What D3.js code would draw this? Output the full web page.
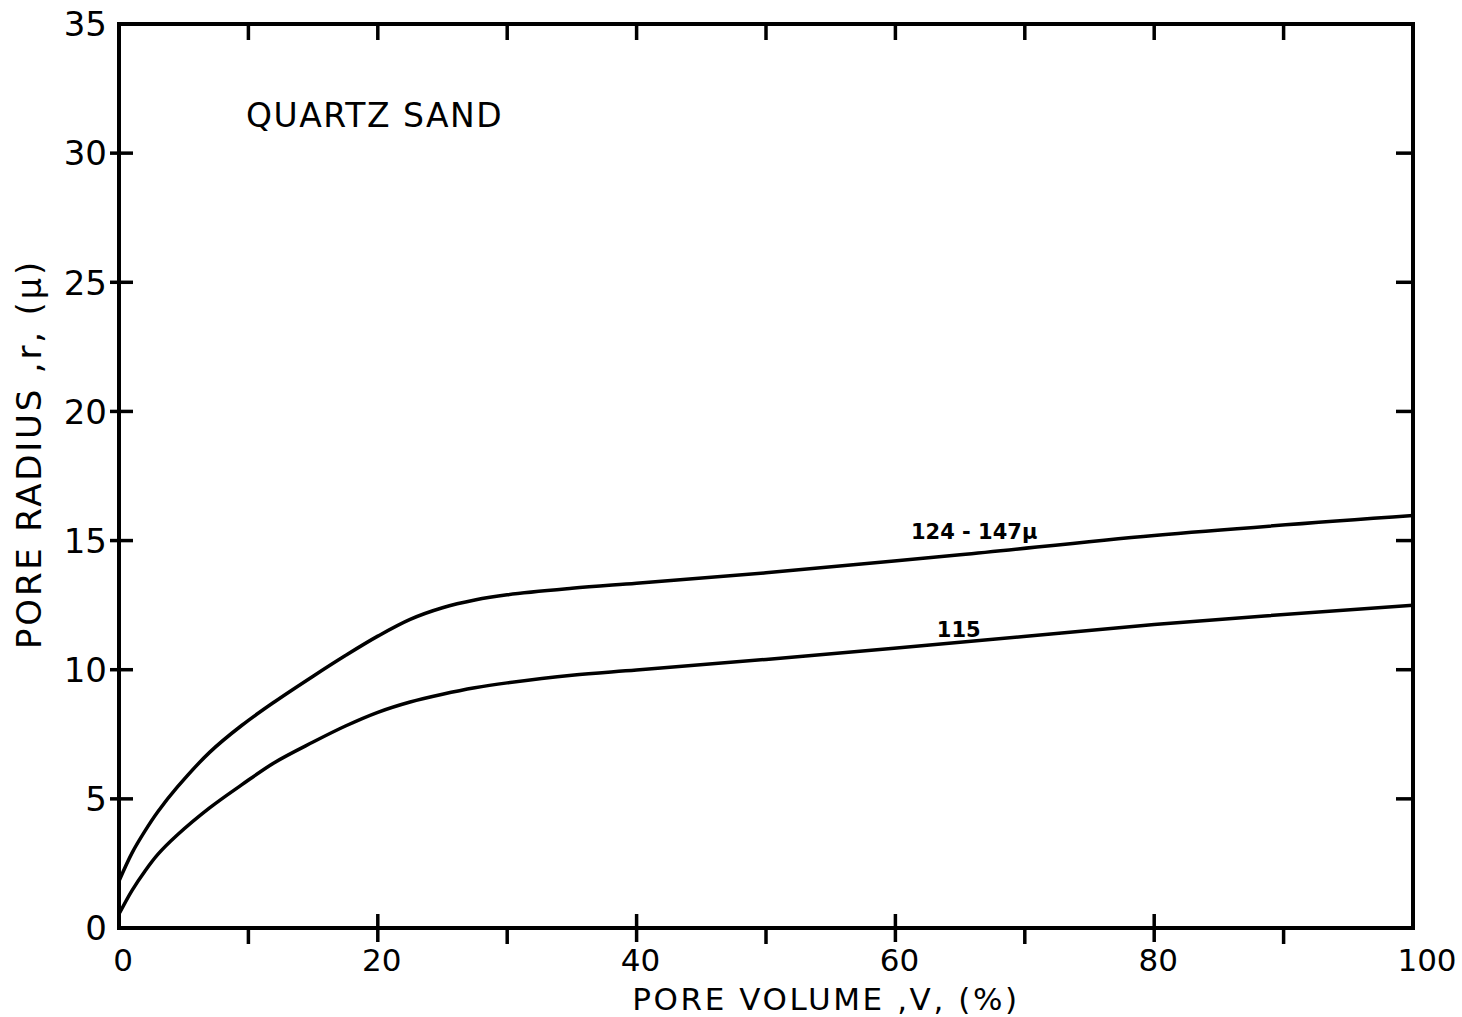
<!DOCTYPE html>
<html>
<head>
<meta charset="utf-8">
<script src="https://cdn.jsdelivr.net/npm/d3@7"></script>
<style>
  body { margin: 0; background: #fff; }
  text { font-family: "DejaVu Sans", sans-serif; fill: #000; }
</style>
</head>
<body>
<div id="chart"></div>
<script>
// chart data
const poreVolume = [0, 1, 2, 3, 4.5, 7, 9.5, 12, 15, 17.5, 20, 22.5, 25, 27.5, 30, 35, 40, 50, 65, 80, 100];
const radiusCoarse = [1.82, 2.9, 3.75, 4.5, 5.45, 6.8, 7.85, 8.75, 9.75, 10.55, 11.3, 11.95, 12.4, 12.7, 12.9, 13.15, 13.35, 13.75, 14.45, 15.2, 15.97];
const radiusFine = [0.54, 1.45, 2.2, 2.85, 3.6, 4.65, 5.55, 6.4, 7.2, 7.82, 8.35, 8.75, 9.05, 9.3, 9.49, 9.79, 9.99, 10.4, 11.06, 11.75, 12.5];
const seriesLabels = ["124 - 147\u03bc", "115"];
const xTicks = [0, 20, 40, 60, 80, 100];
const xMinorTicks = [10, 30, 50, 70, 90];
const yTicks = [0, 5, 10, 15, 20, 25, 30, 35];

// set up svg area
const svgWidth = 1462;
const svgHeight = 1017;
const margin = { top: 24, right: 49, bottom: 89, left: 119 };
const chartWidth = svgWidth - margin.left - margin.right;
const chartHeight = svgHeight - margin.top - margin.bottom;

const svg = d3.select("#chart").append("svg")
    .attr("width", svgWidth)
    .attr("height", svgHeight);

const chartG = svg.append("g")
    .attr("transform", `translate(${margin.left}, ${margin.top})`);

const x = d3.scaleLinear().domain([0, 100]).range([0, chartWidth]);
const y = d3.scaleLinear().domain([0, 35]).range([chartHeight, 0]);

// frame
chartG.append("rect")
    .attr("width", chartWidth)
    .attr("height", chartHeight)
    .attr("fill", "none")
    .attr("stroke", "#000")
    .attr("stroke-width", 4);

// ticks --------------------------------------------------------------
const tickStyle = sel => sel.attr("stroke", "#000").attr("stroke-width", 3.5);

// left: crossing ticks
chartG.selectAll(".ytick-l").data(yTicks.slice(1, -1)).enter().append("line")
    .attr("x1", -9).attr("x2", 14)
    .attr("y1", d => y(d)).attr("y2", d => y(d))
    .call(tickStyle);

// right: inward ticks
chartG.selectAll(".ytick-r").data(yTicks.slice(1, -1)).enter().append("line")
    .attr("x1", chartWidth - 17).attr("x2", chartWidth)
    .attr("y1", d => y(d)).attr("y2", d => y(d))
    .call(tickStyle);

// top: inward ticks
chartG.selectAll(".xtick-t").data(xTicks.slice(1, -1).concat(xMinorTicks)).enter().append("line")
    .attr("x1", d => x(d)).attr("x2", d => x(d))
    .attr("y1", 0).attr("y2", 16)
    .call(tickStyle);

// bottom: major crossing, minor outward
chartG.selectAll(".xtick-b").data(xTicks.slice(1, -1)).enter().append("line")
    .attr("x1", d => x(d)).attr("x2", d => x(d))
    .attr("y1", chartHeight - 14).attr("y2", chartHeight + 14)
    .call(tickStyle);

chartG.selectAll(".xtick-bm").data(xMinorTicks).enter().append("line")
    .attr("x1", d => x(d)).attr("x2", d => x(d))
    .attr("y1", chartHeight).attr("y2", chartHeight + 16)
    .call(tickStyle);

// tick labels
chartG.selectAll(".ylab").data(yTicks).enter().append("text")
    .attr("x", -12)
    .attr("y", d => y(d))
    .attr("dy", "0.36em")
    .attr("text-anchor", "end")
    .attr("font-size", 34)
    .text(d => d);

chartG.selectAll(".xlab").data(xTicks).enter().append("text")
    .attr("x", d => x(d) + (d === 100 ? 14 : 4))
    .attr("y", chartHeight + 43)
    .attr("text-anchor", "middle")
    .attr("font-size", 31)
    .text(d => d);

// axis titles
svg.append("text")
    .attr("x", 826)
    .attr("y", 1010)
    .attr("text-anchor", "middle")
    .attr("font-size", 31)
    .attr("letter-spacing", 2.6)
    .text("PORE VOLUME ,V, (%)");

svg.append("text")
    .attr("transform", "translate(41, 454) rotate(-90)")
    .attr("text-anchor", "middle")
    .attr("font-size", 34)
    .attr("letter-spacing", 2.8)
    .text("PORE RADIUS ,r, (\u03bc)");

chartG.append("text")
    .attr("x", 127)
    .attr("y", 103)
    .attr("font-size", 33)
    .attr("letter-spacing", 1.5)
    .text("QUARTZ SAND");

// curves -------------------------------------------------------------
const line = d3.line()
    .x(d => x(d[0]))
    .y(d => y(d[1]))
    .curve(d3.curveCatmullRom.alpha(0.5));

[radiusCoarse, radiusFine].forEach(series => {
    chartG.append("path")
        .datum(poreVolume.map((v, i) => [v, series[i]]))
        .attr("d", line)
        .attr("fill", "none")
        .attr("stroke", "#000")
        .attr("stroke-width", 3.5);
});

// curve labels
chartG.append("text")
    .attr("x", x(61.2))
    .attr("y", y(15.05))
    .attr("font-size", 21)
    .attr("font-weight", "bold")
    .text(seriesLabels[0]);

chartG.append("text")
    .attr("x", x(63.2))
    .attr("y", y(11.25))
    .attr("font-size", 21)
    .attr("font-weight", "bold")
    .text(seriesLabels[1]);
</script>
</body>
</html>
